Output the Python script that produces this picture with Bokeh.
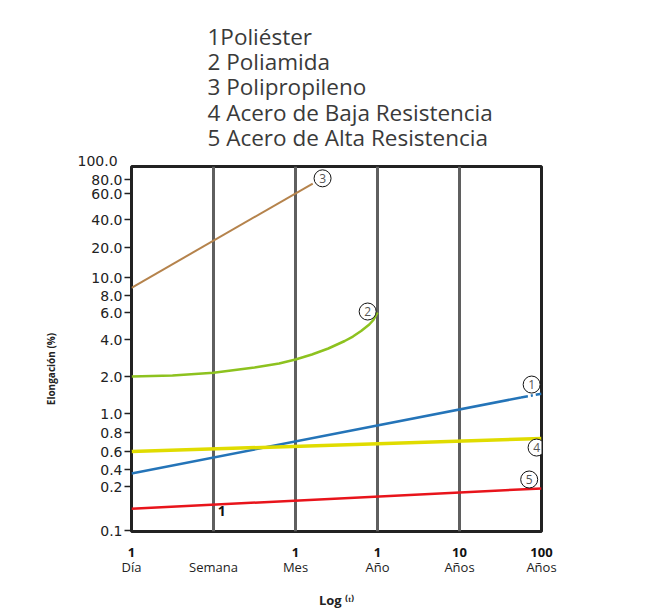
import numpy as np
from bokeh.plotting import figure
from bokeh.models import Range1d, LinearAxis, FixedTicker, Grid, Label, Title
from bokeh.core.properties import value
from bokeh.embed import file_html
from bokeh.resources import INLINE

FONT = "Open Sans"
NUM_FONT = "DejaVu Sans"

# Legend entries
SERIES_NAMES = ["1Poliéster", "2 Poliamida", "3 Polipropileno",
                "4 Acero de Baja Resistencia", "5 Acero de Alta Resistencia"]

# X axis: log time categories (equally spaced)
X_TICK_NUMS = ["1", " ", "1", "1", "10", "100"]
X_TICK_NAMES = ["Día", "Semana", "Mes", "Año", "Años", "Años"]

# Y axis: hand-drawn, non-uniform scale (labels and where they sit)
Y_TICK_VALUES = [0.1, 0.2, 0.4, 0.6, 0.8, 1.0, 2.0, 4.0, 6.0, 8.0, 10.0, 20.0, 40.0, 60.0, 80.0, 100.0]
Y_TICK_LABELS = ["0.1", "0.2", "0.4", "0.6", "0.8", "1.0", "2.0", "4.0", "6.0", "8.0",
                 "10.0", "20.0", "40.0", "60.0", "80.0", "100.0"]
Y_TICK_POS = [1, 45, 62, 80, 99, 118, 155, 192, 219, 236, 254, 284, 312, 338, 352, 373]

# Series (x = time index, y = elongation %)
POLIESTER_X = [0, 4.75, 5]
POLIESTER_Y = [0.34, 1.35, 1.45]
POLIAMIDA_X = [0, 0.5, 1, 1.5, 1.8, 2.0, 2.2, 2.4, 2.6, 2.7, 2.8, 2.9, 2.95, 3.0]
POLIAMIDA_Y = [2.0, 2.04, 2.15, 2.37, 2.55, 2.75, 3.02, 3.38, 3.89, 4.18, 4.54, 5.01, 5.36, 6.0]
POLIPROP_X = [0, 2.21]
POLIPROP_Y = [8.8, 73.6]
ACERO_BAJA_X = [0, 5]
ACERO_BAJA_Y = [0.6, 0.73]
ACERO_ALTA_X = [0, 5]
ACERO_ALTA_Y = [0.141, 0.194]

# Circled series numbers
MARK_NUM = ["1", "2", "3", "4", "5"]
MARK_X = [4.88, 2.88, 2.33, 4.94, 4.85]
MARK_Y = [1.72, 6.1, 81.0, 0.637, 0.266]

# Stray annotation
NOTE_X = 1.1
NOTE_Y = 0.137
NOTE_TEXT = "1"


def ypos(v):
    return np.interp(np.log10(np.asarray(v, dtype=float)), np.log10(Y_TICK_VALUES), Y_TICK_POS)


p = figure(width=654, height=612, x_range=Range1d(0, 5), y_range=Range1d(0, 365),
           x_axis_type=None, y_axis_type=None, output_backend="svg", toolbar_location=None,
           min_border_left=131, min_border_right=113, min_border_top=166, min_border_bottom=81)
p.outline_line_color = "#222222"
p.outline_line_width = 3
p.background_fill_color = "white"
p.border_fill_color = "white"

grid = Grid(dimension=0, ticker=FixedTicker(ticks=[1, 2, 3, 4]),
            grid_line_color="#5f5f5f", grid_line_width=3)
p.add_layout(grid)

# Y axis
inner = list(range(0, len(Y_TICK_POS) - 1))
yaxis = LinearAxis(ticker=FixedTicker(ticks=[Y_TICK_POS[i] for i in inner], minor_ticks=[]),
                   major_label_overrides={Y_TICK_POS[i]: Y_TICK_LABELS[i] for i in inner},
                   axis_line_color=None, major_tick_out=7, major_tick_in=0,
                   major_tick_line_color="#222222", major_tick_line_width=1.5,
                   minor_tick_line_color=None, major_label_standoff=2,
                   major_label_text_font=NUM_FONT, major_label_text_font_size="14px",
                   major_label_text_color="#222222")
p.add_layout(yaxis, "left")

# Y axis title (trailing em spaces nudge the visible text below centre, as in the original)
p.add_layout(Title(text="Elongación (%)" + "\u2003" * 4, align="center", standoff=62,
                   text_font=FONT, text_font_size="10px", text_font_style="bold",
                   text_color="#222222"), "left")

# X axes (numbers row, names row)
xt = list(range(len(X_TICK_NAMES)))
xa1 = LinearAxis(ticker=FixedTicker(ticks=xt, minor_ticks=[]),
                 major_label_overrides={i: X_TICK_NUMS[i] for i in xt},
                 axis_line_color=None, major_tick_line_color=None, major_tick_out=0,
                 minor_tick_line_color=None, major_label_standoff=11,
                 major_label_text_font=FONT, major_label_text_font_size="13px",
                 major_label_text_font_style="bold", major_label_text_color="#111111")
xa2 = LinearAxis(ticker=FixedTicker(ticks=xt, minor_ticks=[]),
                 major_label_overrides={i: X_TICK_NAMES[i] for i in xt},
                 axis_line_color=None, major_tick_line_color=None, major_tick_out=0,
                 minor_tick_line_color=None, major_label_standoff=-6,
                 major_label_text_font=FONT, major_label_text_font_size="13px",
                 major_label_text_color="#222222",
                 axis_label="Log \u207d\u1d57\u207e", axis_label_text_font=FONT,
                 axis_label_text_font_size="13px", axis_label_text_font_style="bold",
                 axis_label_text_color="#222222", axis_label_standoff=12)
p.add_layout(xa1, "below")
p.add_layout(xa2, "below")

# Top tick label that sits above the frame
p.add_layout(Title(text=Y_TICK_LABELS[-1], align="left", offset=-54, standoff=2,
                   text_font=NUM_FONT, text_font_size="14px", text_font_style="normal",
                   text_color="#222222"), "above")

# Legend block above the plot
p.add_layout(Title(text="\n".join(SERIES_NAMES), align="left", offset=76, standoff=-1,
                   text_font=FONT, text_font_size="22.5px", text_font_style="normal",
                   text_color="#3a3a3a", text_line_height=0.817), "above")

# Series lines
p.line(POLIPROP_X, ypos(POLIPROP_Y), line_color="#b5834c", line_width=2)
p.line(POLIAMIDA_X, ypos(POLIAMIDA_Y), line_color="#8dc21f", line_width=2.5)
p.line(POLIESTER_X[:2], ypos(POLIESTER_Y[:2]), line_color="#2474b8", line_width=2.5)
p.line(POLIESTER_X[1:], ypos(POLIESTER_Y[1:]), line_color="#2474b8", line_width=2.5,
       line_dash="7 3 2 3")
p.line(ACERO_BAJA_X, ypos(ACERO_BAJA_Y), line_color="#e0dc00", line_width=3.5)
p.line(ACERO_ALTA_X, ypos(ACERO_ALTA_Y), line_color="#e8141b", line_width=2.5)

# Circled numbers
p.scatter(MARK_X, ypos(MARK_Y), size=17, fill_color="white", line_color="#111111", line_width=1)
p.text(MARK_X, ypos(MARK_Y), text=MARK_NUM, text_align="center", text_baseline="middle",
       text_font=value(FONT), text_font_size="12px", text_color="#555555")

p.add_layout(Label(x=NOTE_X, y=float(ypos(NOTE_Y)), text=NOTE_TEXT, text_align="center",
                   text_baseline="middle", text_font=FONT, text_font_size="14px",
                   text_font_style="bold", text_color="#111111"))

open("out.html", "w").write(file_html(p, INLINE))
